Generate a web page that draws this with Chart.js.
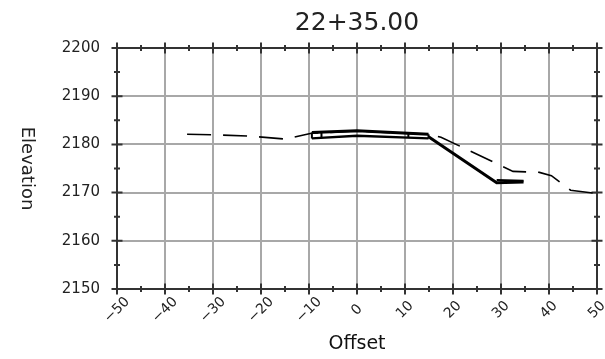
<!DOCTYPE html>
<html>
<head>
<meta charset="utf-8">
<script src="https://cdn.jsdelivr.net/npm/chart.js@4.4.0/dist/chart.umd.min.js"></script>
<style>
    html, body { margin: 0; padding: 0; background: #fff; }
    #wrap { width: 605px; height: 359px; }
</style>
</head>
<body>
<div id="wrap"><canvas id="sectionChart"></canvas></div>
<script>
// station shown as the title
const stationLabel = '22+35.00';

// axis ticks
const offsetTicks = [-50, -40, -30, -20, -10, 0, 10, 20, 30, 40, 50];
const elevTicks = [2150, 2160, 2170, 2180, 2190, 2200];

// existing ground (dashed)
const groundOffset = [-35.4, -30, -22, -15, -9.5, 0, 15, 17.5, 32.5, 38, 40.5, 44.5, 50];
const groundElev = [2182.1, 2182.0, 2181.7, 2181.1, 2182.3, 2182.75, 2182.1, 2181.5, 2174.4, 2174.2, 2173.5, 2170.5, 2169.8];

// road surface, top and bottom of pavement
const surfaceOffset = [-9.4, 0, 14.9];
const surfaceTop = [2182.45, 2182.85, 2182.1];
const surfaceBottom = [2181.25, 2181.8, 2181.25];

// short vertical edges of the pavement layers
const edgeOffset = [-9.4, -7.4, 10.7, 14.9];
const edgeTop = [2182.45, 2182.5, 2182.35, 2182.1];
const edgeBottom = [2181.25, 2181.35, 2181.4, 2181.25];

// fill slope down to the ditch
const slopeOffset = [14.9, 29.1, 34.7];
const slopeElev = [2181.6, 2172.05, 2172.2];
const ditchOffset = [29.1, 34.7];
const ditchElev = [2172.6, 2172.45];

const pts = (xs, ys) => xs.map((x, i) => ({ x: x, y: ys[i] }));

const lineSet = (data, width, dash) => ({
    data: data,
    showLine: true,
    borderColor: '#000',
    borderWidth: width,
    borderDash: dash || [],
    pointRadius: 0,
    fill: false,
    tension: 0
});

const datasets = [
    lineSet(pts(groundOffset, groundElev), 1.6, [24, 12]),
    lineSet(pts(surfaceOffset, surfaceTop), 3),
    lineSet(pts(surfaceOffset, surfaceBottom), 2.5),
    lineSet(pts(slopeOffset, slopeElev), 3),
    lineSet(pts(ditchOffset, ditchElev), 2)
];
edgeOffset.forEach((x, i) => {
    datasets.push(lineSet(pts([x, x], [edgeTop[i], edgeBottom[i]]), 2));
});

// frame with ticks on all four sides + rotated x labels + y title
const frameAxes = {
    id: 'frameAxes',
    beforeDatasetsDraw(chart) {
        const { ctx, chartArea: a, scales } = chart;
        const xs = scales.x, ys = scales.y;
        ctx.save();
        ctx.strokeStyle = '#333';
        ctx.lineWidth = 2;
        ctx.strokeRect(a.left, a.top, a.right - a.left, a.bottom - a.top);

        ctx.beginPath();
        for (let v = -50; v <= 50; v += 5) {
            const px = xs.getPixelForValue(v);
            const len = v % 10 === 0 ? 5.5 : 3;
            ctx.moveTo(px, a.top - len); ctx.lineTo(px, a.top + len);
            ctx.moveTo(px, a.bottom - len); ctx.lineTo(px, a.bottom + len);
        }
        for (let v = 2150; v <= 2200; v += 5) {
            const py = ys.getPixelForValue(v);
            const len = v % 10 === 0 ? 5.5 : 3;
            ctx.moveTo(a.left - len, py); ctx.lineTo(a.left + len, py);
            ctx.moveTo(a.right - len, py); ctx.lineTo(a.right + len, py);
        }
        ctx.stroke();
        ctx.restore();
    },
    afterDraw(chart) {
        const { ctx, chartArea: a, scales } = chart;
        ctx.save();
        ctx.fillStyle = '#222';
        ctx.font = '14px "DejaVu Sans"';
        ctx.textAlign = 'center';
        ctx.textBaseline = 'middle';
        offsetTicks.forEach(v => {
            const px = scales.x.getPixelForValue(v);
            const txt = v < 0 ? '\u2212' + Math.abs(v) : String(v);
            ctx.save();
            ctx.translate(px, a.bottom + 21);
            ctx.rotate(-Math.PI / 4);
            ctx.fillText(txt, 0, 0);
            ctx.restore();
        });

        ctx.font = '18px "DejaVu Sans"';
        ctx.translate(27, (a.top + a.bottom) / 2);
        ctx.rotate(Math.PI / 2);
        ctx.fillText('Elevation', 0, 0);
        ctx.restore();
    }
};

const ctx = document.getElementById('sectionChart').getContext('2d');
new Chart(ctx, {
    type: 'scatter',
    data: { datasets: datasets },
    options: {
        responsive: true,
        maintainAspectRatio: false,
        animation: false,
        layout: { padding: { left: 57, right: 8, top: 0, bottom: 0 } },
        scales: {
            x: {
                type: 'linear',
                min: -50,
                max: 50,
                afterBuildTicks: s => { s.ticks = offsetTicks.map(v => ({ value: v })); },
                afterFit: s => { s.height = 70; },
                ticks: { display: false },
                grid: { color: '#a8a8a8', lineWidth: 2, drawTicks: false },
                border: { display: false },
                title: {
                    display: true,
                    text: 'Offset',
                    color: '#111',
                    font: { family: 'DejaVu Sans', size: 19 },
                    padding: { top: 0, bottom: 4 }
                }
            },
            y: {
                type: 'linear',
                min: 2150,
                max: 2200,
                afterBuildTicks: s => { s.ticks = elevTicks.map(v => ({ value: v })); },
                afterFit: s => { s.width = 60; },
                ticks: {
                    color: '#222',
                    padding: 17,
                    font: { family: 'DejaVu Sans', size: 15 },
                    callback: v => String(v)
                },
                grid: { color: '#a8a8a8', lineWidth: 2, drawTicks: false },
                border: { display: false }
            }
        },
        plugins: {
            legend: { display: false },
            tooltip: { enabled: false },
            title: {
                display: true,
                text: stationLabel,
                fullSize: false,
                color: '#222',
                font: { family: 'DejaVu Sans', size: 25, weight: 'normal' },
                padding: { top: 8, bottom: 10 }
            }
        }
    },
    plugins: [frameAxes]
});
</script>
</body>
</html>
